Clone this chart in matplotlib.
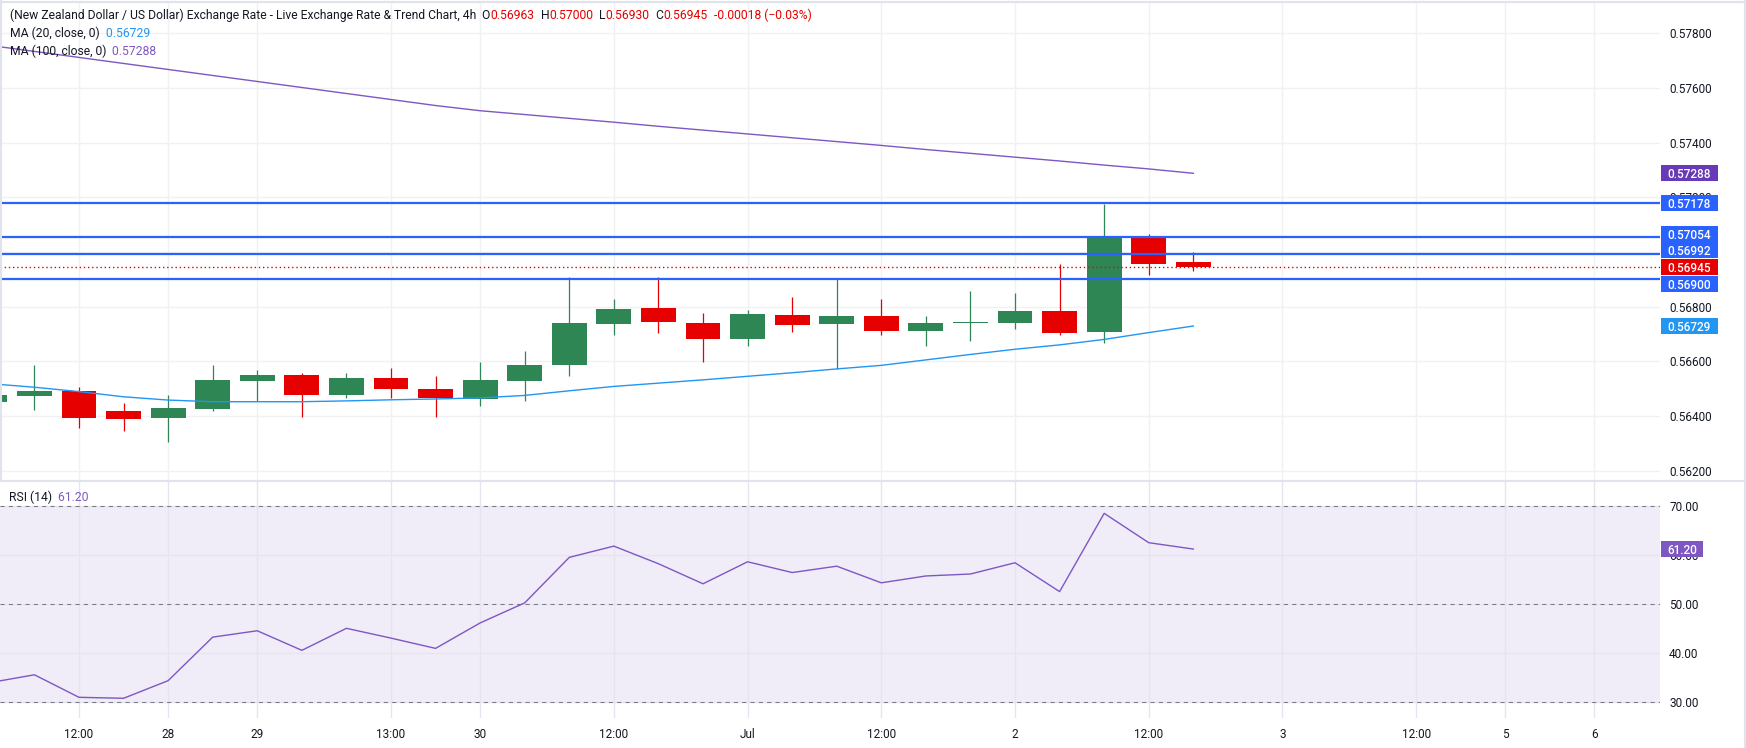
import numpy as np
import matplotlib
matplotlib.use('Agg')
import matplotlib.pyplot as plt
from matplotlib.patches import Rectangle
from matplotlib.lines import Line2D
from matplotlib.transforms import IdentityTransform
from matplotlib.ticker import FormatStrFormatter

plt.rcParams['font.family'] = ['Roboto', 'DejaVu Sans']

# 4h candles, bar index -1 .. 26
opens = [0.56452, 0.56474, 0.56491, 0.56418, 0.56393, 0.56425, 0.56528, 0.56550,
         0.56477, 0.56539, 0.56499, 0.56462, 0.56528, 0.56586, 0.56736, 0.56795,
         0.56740, 0.56681, 0.56770, 0.56736, 0.56766, 0.56711, 0.56740, 0.56740,
         0.56784, 0.56708, 0.57055, 0.56963]
highs = [0.56490, 0.56586, 0.56506, 0.56447, 0.56477, 0.56586, 0.56568, 0.56557,
         0.56557, 0.56575, 0.56546, 0.56597, 0.56638, 0.56908, 0.56828, 0.56908,
         0.56777, 0.56788, 0.56836, 0.56900, 0.56828, 0.56766, 0.56857, 0.56850,
         0.56956, 0.57175, 0.57066, 0.57000]
lows = [0.56430, 0.56421, 0.56357, 0.56345, 0.56306, 0.56418, 0.56455, 0.56397,
        0.56466, 0.56466, 0.56397, 0.56436, 0.56455, 0.56546, 0.56696, 0.56703,
        0.56597, 0.56656, 0.56707, 0.56572, 0.56696, 0.56656, 0.56674, 0.56718,
        0.56696, 0.56668, 0.56917, 0.56930]
closes = [0.56477, 0.56491, 0.56393, 0.56389, 0.56429, 0.56531, 0.56550, 0.56477,
          0.56539, 0.56499, 0.56466, 0.56531, 0.56586, 0.56740, 0.56791, 0.56744,
          0.56681, 0.56773, 0.56733, 0.56766, 0.56711, 0.56740, 0.56744, 0.56784,
          0.56705, 0.57052, 0.56957, 0.56945]
ma20 = [0.56518, 0.56505, 0.56489, 0.56470, 0.56458, 0.56452, 0.56452, 0.56452,
        0.56455, 0.56459, 0.56462, 0.56466, 0.56475, 0.56492, 0.56508, 0.56520,
        0.56532, 0.56545, 0.56558, 0.56572, 0.56585, 0.56605, 0.56625, 0.56644,
        0.56660, 0.56680, 0.56705, 0.56729]
ma100 = [0.57756, 0.57734, 0.57712, 0.57690, 0.57668, 0.57646, 0.57624, 0.57602,
         0.57580, 0.57558, 0.57536, 0.57517, 0.57503, 0.57489, 0.57475, 0.57460,
         0.57446, 0.57432, 0.57418, 0.57404, 0.57390, 0.57375, 0.57361, 0.57347,
         0.57333, 0.57318, 0.57304, 0.57288]
rsi = [33.9, 35.5, 30.9, 30.7, 34.3, 43.2, 44.5, 40.5, 45.0, 43.0, 40.9, 46.1,
       50.2, 59.5, 61.8, 58.2, 54.1, 58.6, 56.4, 57.7, 54.3, 55.7, 56.1, 58.4,
       52.5, 68.5, 62.5, 61.2]
levels = [0.57178, 0.57054, 0.56992, 0.56900]
last_price = 0.56945

tick_pos = [1, 3, 5, 8, 10, 13, 16, 19, 22, 25, 28, 31, 33, 35]
tick_labels = ['12:00', '28', '29', '13:00', '30', '12:00', 'Jul', '12:00', '2',
               '12:00', '3', '12:00', '5', '6']

GREEN = '#2E8655'
RED = '#E60000'
BLUE = '#2962FF'
MA20_C = '#2196F3'
PURPLE = '#7E57C2'
TXT = '#131722'
GRID = '#F0F1F4'
FS = 8.5
HFS = 8.7

W, H = 1746, 748
PLOT_R = 1660
fig = plt.figure(figsize=(W / 100, H / 100), dpi=100)


def axes_px(top, bottom):
    return [0, 1 - bottom / H, PLOT_R / W, (bottom - top) / H]


ax = fig.add_axes(axes_px(2, 481))
ax2 = fig.add_axes(axes_px(481, 718), sharex=ax)
ax.patch.set_visible(False)
ax2.patch.set_visible(False)

xs = np.arange(-1, len(opens) - 1)
o = np.array(opens)
c = np.array(closes)
cols = np.where(c >= o, GREEN, RED)

# price pane
ax.vlines(xs, lows, highs, colors=cols, lw=0.9, zorder=3)
ax.bar(xs, np.maximum(np.abs(c - o), 0.00003), bottom=np.minimum(o, c),
       width=0.78, color=cols, lw=0, zorder=4)
ax.plot(xs, ma20, color=MA20_C, lw=1.0, zorder=5)
ax.plot(xs, ma100, color=PURPLE, lw=1.0, zorder=5)
for lv in levels:
    ax.axhline(lv, color=BLUE, lw=1.6, zorder=6)
ax.axhline(last_price, color=RED, lw=1.0, ls=(0, (1, 2)), zorder=6)

ax.set_xlim(-0.772, 36.47)
ax.set_ylim(0.561618, 0.579149)
ax.set_yticks(np.arange(0.562, 0.5781, 0.002))
ax.yaxis.set_major_formatter(FormatStrFormatter('%.5f'))
ax.yaxis.tick_right()
ax.set_xticks(tick_pos)
ax.set_xticklabels(tick_labels)
ax.tick_params(axis='x', labelbottom=False, length=0)
ax.tick_params(axis='y', length=0, pad=6.5, labelsize=FS, labelcolor=TXT)
ax.grid(True, color=GRID, lw=1.0, zorder=0)
ax.set_axisbelow(True)
for s in ax.spines.values():
    s.set_visible(False)

# RSI pane
ax2.axhspan(30, 70, color='#F0ECF8', lw=0, zorder=0)
ax2.plot(xs, rsi, color=PURPLE, lw=1.0, zorder=4)
for lv in [70, 50, 30]:
    ax2.axhline(lv, color='#787B86', lw=0.75, ls=(0, (4, 4)), zorder=3)
ax2.set_ylim(26.67, 75.11)
ax2.set_yticks([30, 40, 50, 60, 70])
ax2.yaxis.set_major_formatter(FormatStrFormatter('%.2f'))
ax2.yaxis.tick_right()
ax2.tick_params(axis='y', length=0, pad=6.5, labelsize=FS, labelcolor=TXT)
ax2.tick_params(axis='x', length=0, pad=7.5, labelsize=FS, labelcolor=TXT)
ax2.grid(True, color='#E6E4EE', lw=1.0, zorder=1)
ax2.set_axisbelow(True)
for s in ax2.spines.values():
    s.set_visible(False)

ID = IdentityTransform()


def tag(axis, value, text, color, dy=0, width=57):
    # coloured price label on the right scale, like TradingView
    y = axis.transData.transform((0, value))[1] + dy
    fig.add_artist(Rectangle((PLOT_R + 1, y - 8), width, 16, transform=ID,
                             fc=color, ec='none', zorder=10))
    fig.text(PLOT_R + 1 + width / 2, y, text, transform=ID, color='white',
             ha='center', va='center_baseline', fontsize=FS,
             fontweight='medium', zorder=11)


tag(ax, ma100[-1], '0.57288', '#673AB7')
tag(ax, levels[0], '0.57178', BLUE)
tag(ax, levels[1], '0.57054', BLUE, dy=3)
tag(ax, levels[2], '0.56992', BLUE, dy=4)
tag(ax, last_price, '0.56945', RED)
tag(ax, levels[3], '0.56900', BLUE, dy=-5)
tag(ax, ma20[-1], '0.56729', MA20_C)
tag(ax2, rsi[-1], '%.2f' % rsi[-1], PURPLE, width=42)


def header(x, y, parts):
    # multi-coloured legend line: each piece starts where the last one ends
    t = fig.text(x, H - y, parts[0][0], color=parts[0][1], transform=ID,
                 fontsize=HFS, va='center', zorder=12)
    for s, col in parts[1:]:
        t = ax2.annotate(s, xy=(1, 0), xycoords=t, color=col, fontsize=HFS,
                         va='bottom', ha='left', zorder=12)


header(10, 15.6, [
    ('(New Zealand Dollar / US Dollar) Exchange Rate - Live Exchange Rate & Trend Chart, 4h', TXT),
    ('  O', TXT), ('0.56963', RED), ('  H', TXT), ('0.57000', RED),
    ('  L', TXT), ('0.56930', RED), ('  C', TXT), ('0.56945', RED),
    ('  -0.00018 (\u22120.03%)', RED)])
header(10, 33.4, [('MA (20, close, 0)', TXT), ('  0.56729', MA20_C)])
header(10, 51.2, [('MA (100, close, 0)', TXT), ('  0.57288', PURPLE)])
header(9, 497, [('RSI (14)', TXT), ('  61.20', PURPLE)])

# pane separators and frame
fig.add_artist(Line2D([0, W], [H - 481, H - 481], transform=ID,
                      color='#E0E3EB', lw=1.5))
fig.add_artist(Line2D([0, W], [H - 1.5, H - 1.5], transform=ID,
                      color='#E0E3EB', lw=1.5))
fig.add_artist(Line2D([W - 1, W - 1], [0, H], transform=ID,
                      color='#E0E3EB', lw=1.5))
fig.add_artist(Line2D([0.5, 0.5], [H - 481, H], transform=ID,
                      color='#E0E3EB', lw=1.5))

fig.savefig('out.png', dpi=100, facecolor='white')
